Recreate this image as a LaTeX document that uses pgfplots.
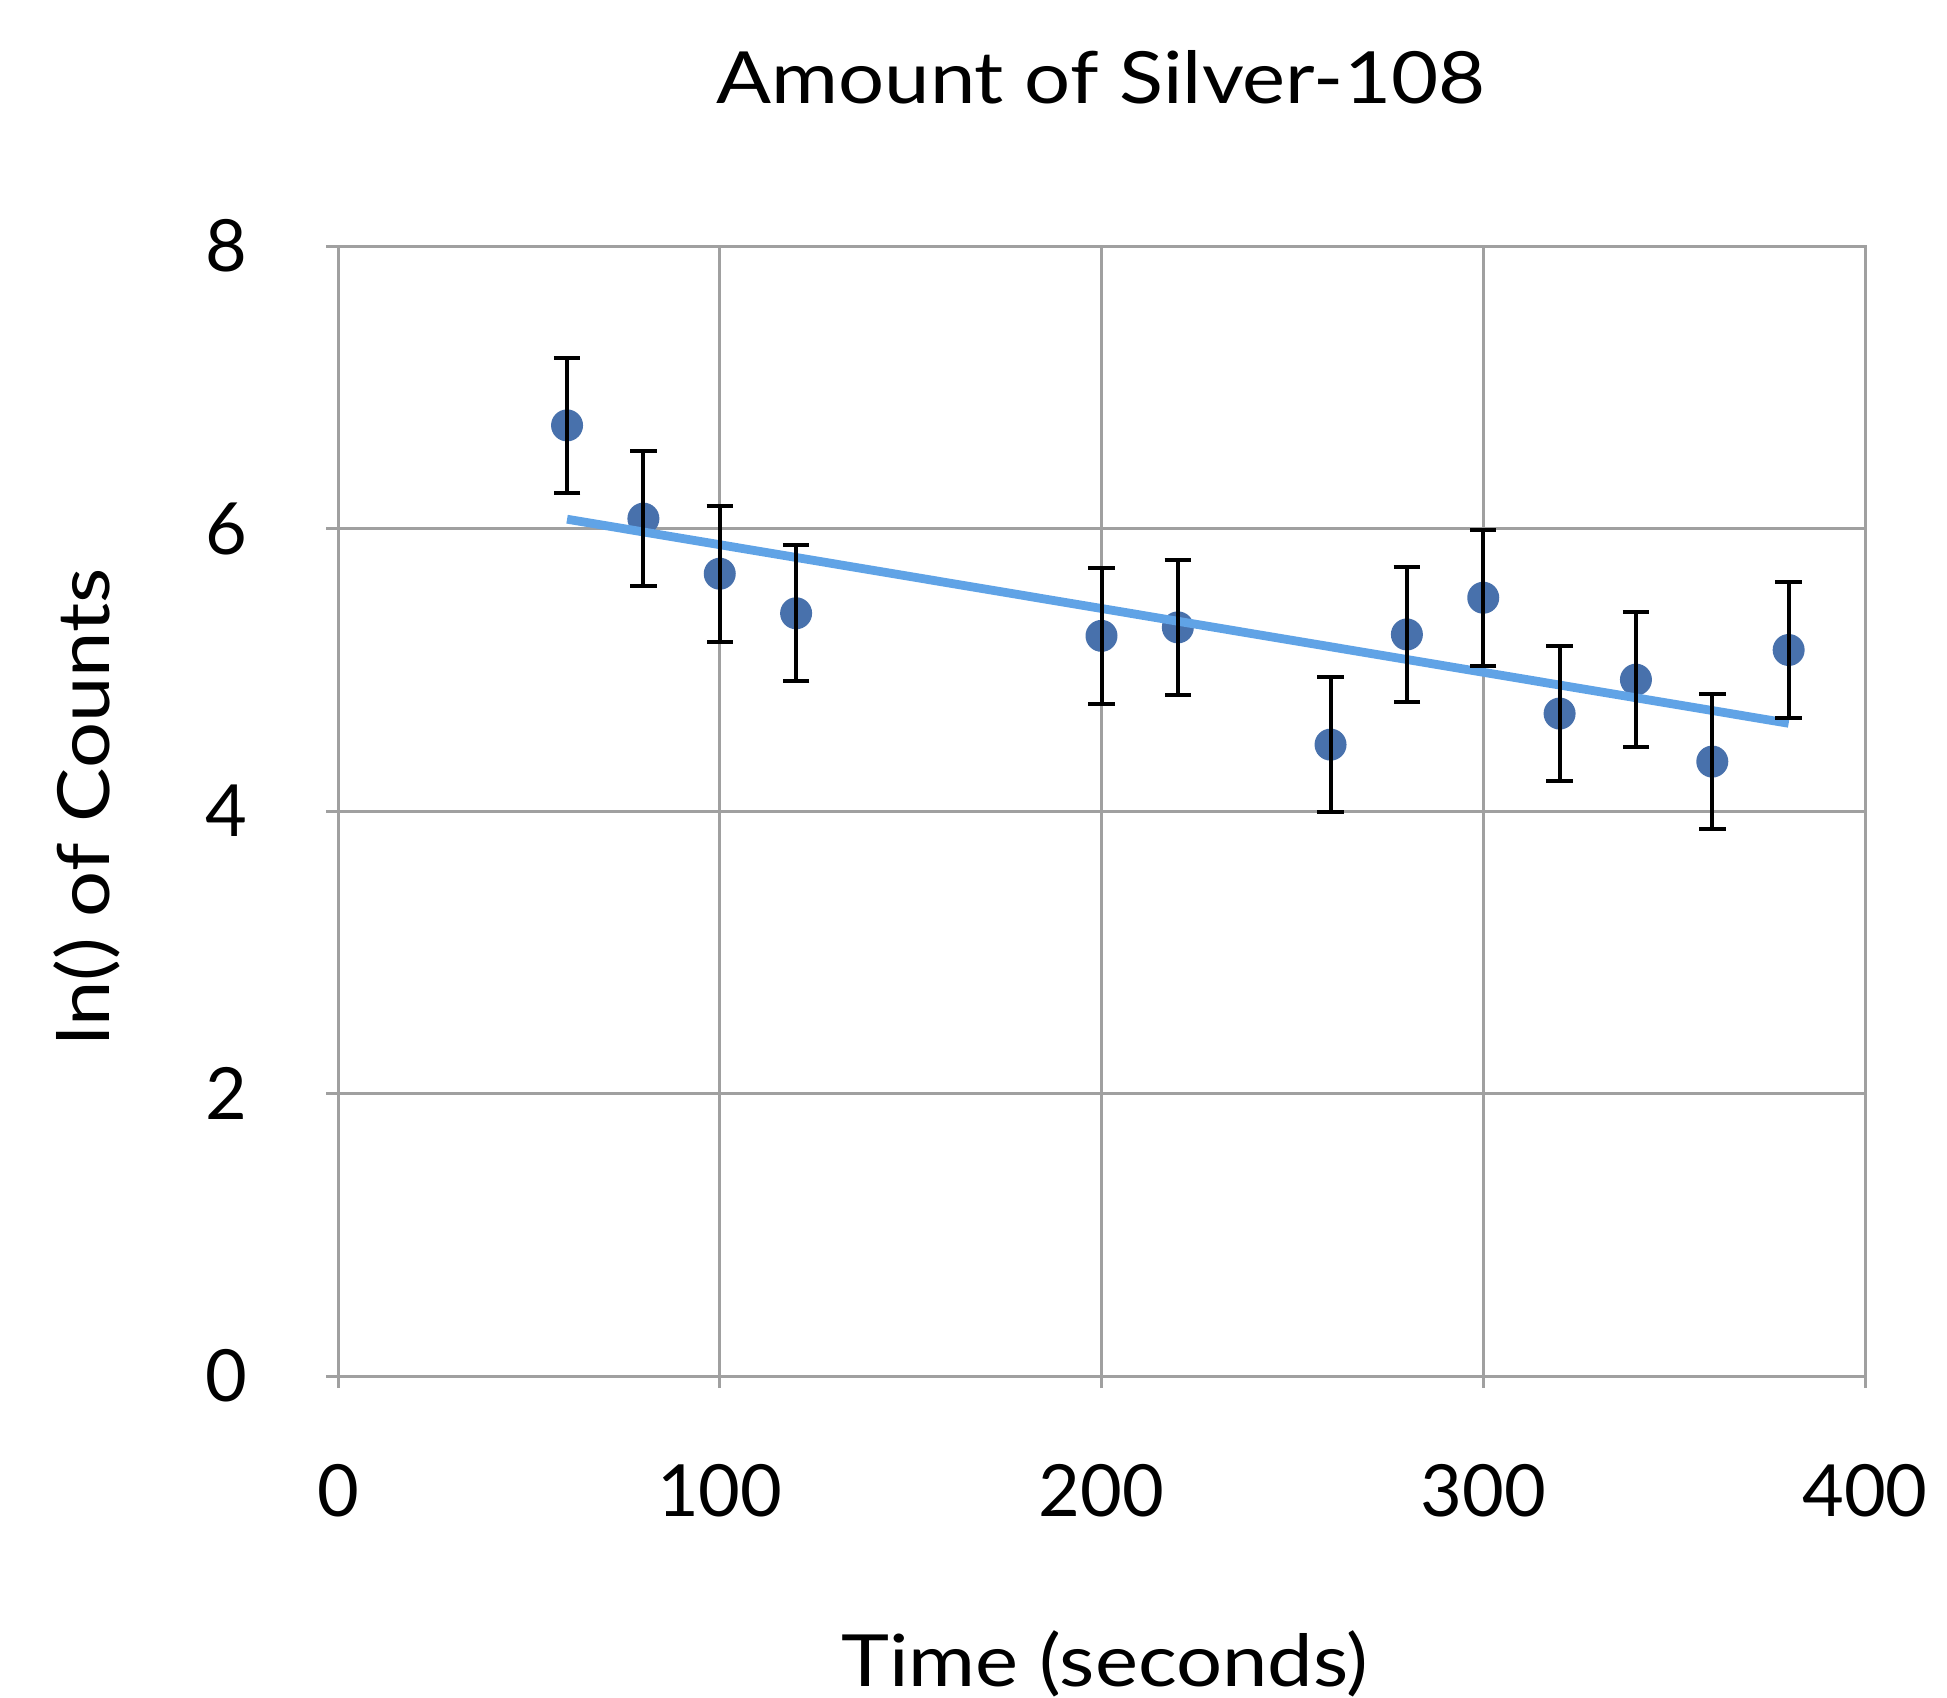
\documentclass[border=0pt]{standalone}
\usepackage{fontspec}
\setmainfont{Lato}
\newfontfamily\labelfont{Lato}[FakeStretch=1.13]
\usepackage{pgfplots}
\usepackage{pgfplotstable}
\pgfplotsset{compat=1.18}
\definecolor{gridgray}{RGB}{160,160,160}
\definecolor{markblue}{RGB}{72,113,172}
\definecolor{trendblue}{RGB}{96,163,230}
\pgfplotstableread{
x y e
60 6.73 0.48
80 6.07 0.48
100 5.68 0.48
120 5.40 0.48
200 5.24 0.48
220 5.30 0.48
260 4.47 0.48
280 5.25 0.48
300 5.51 0.48
320 4.69 0.48
340 4.93 0.48
360 4.35 0.48
380 5.14 0.48
}\datatable
\pgfplotstableread{
x y
60 6.066
380 4.621
}\trendtable
\pgfplotsset{common/.style={
  at={(84.5pt,80.25pt)}, anchor=south west,
  scale only axis, width=381.75pt, height=282.5pt,
  xmin=0, xmax=400, ymin=0, ymax=8, clip=false}}
\begin{document}
\begin{tikzpicture}[x=1pt,y=1pt]
\useasboundingbox (0,0) rectangle (486.75,424.25);
\begin{axis}[common,
  xtick={0,100,200,300,400}, ytick={0,2,4,6,8},
  grid=major, major grid style={gridgray, line width=0.75pt},
  axis line style={gridgray, line width=0.75pt},
  tick style={gridgray, line width=0.75pt},
  major tick length=3pt, tick align=outside, tick pos=left,
  /pgf/number format/assume math mode=true,
  tick label style={font=\fontsize{18}{18}\selectfont, text=black},
  yticklabel style={anchor=east, inner sep=0pt, xshift=-19.5pt},
  xticklabel style={anchor=north, inner sep=0pt, yshift=-19pt},
]
\addplot[only marks, mark=*, color=markblue, mark size=3.8pt] table[x=x, y=y] {\datatable};
\end{axis}
\begin{axis}[common, hide axis]
\addplot[trendblue, line width=2.2pt, mark=none] table[x=x, y=y] {\trendtable};
\addplot[draw=none, no markers, error bars/.cd, y dir=both, y explicit,
  error bar style={draw=black, solid, line width=1pt},
  error mark options={rotate=90, draw=black, solid, mark size=3.3pt, line width=1pt}]
  table[x=x, y=y, y error=e] {\datatable};
\end{axis}
\node[font=\labelfont\fontsize{18}{18}\selectfont] at (275.25,405) {Amount of Silver-108};
\node[font=\labelfont\fontsize{18}{18}\selectfont] at (276.25,8.25) {Time (seconds)};
\node[font=\labelfont\fontsize{18}{18}\selectfont, rotate=90] at (21.75,222.5) {ln() of Counts};
\end{tikzpicture}
\end{document}
